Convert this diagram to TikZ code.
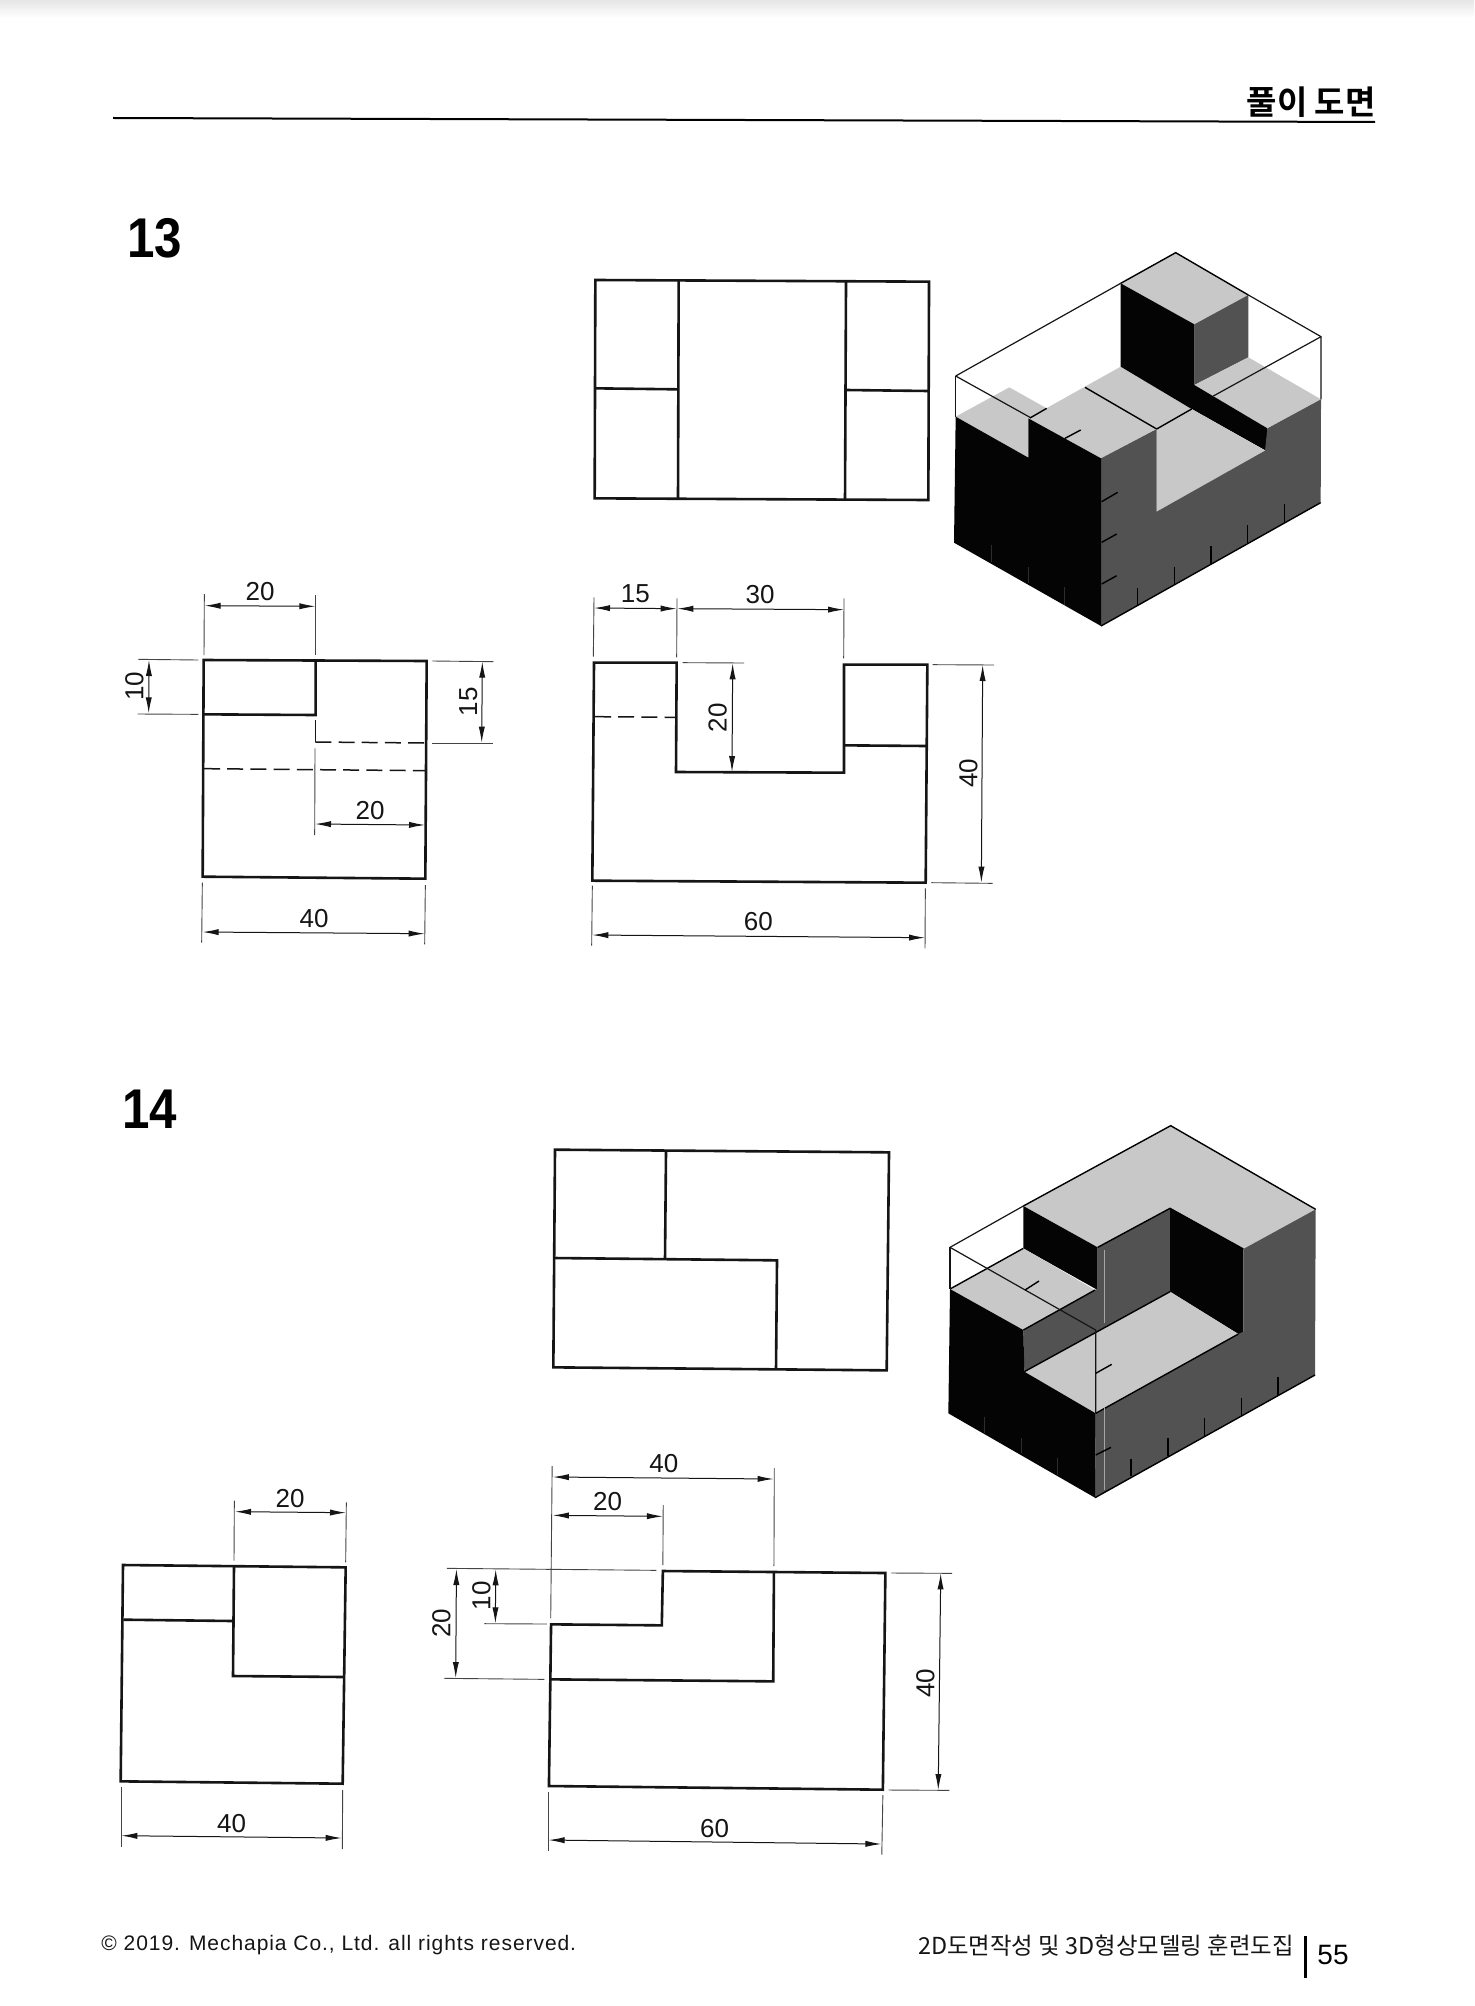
\documentclass[tikz,border=0pt]{standalone}
\usepackage{fontspec}
\setmainfont{Liberation Sans}
\newfontfamily\krfont{Noto Sans CJK KR}
\newfontfamily\krbold{Noto Sans CJK KR Bold}
\usetikzlibrary{arrows.meta}
\definecolor{isolight}{HTML}{C8C8C8}
\definecolor{isodark}{HTML}{525252}
\definecolor{isoblack}{HTML}{040404}
\definecolor{inkc}{HTML}{151515}
\tikzset{
  vis/.style={draw=inkc,line width=1.3pt,line join=miter},
  ext/.style={draw=inkc!80,line width=.45pt},
  dimarrow/.style={draw=inkc,line width=.5pt,{Latex[length=8pt,width=3.1pt]}-{Latex[length=8pt,width=3.1pt]}},
  hid/.style={draw=inkc,line width=.75pt,dash pattern=on 8pt off 3.6pt},
  wire/.style={draw=inkc,line width=.6pt},
  edge13/.style={draw=black,line width=.7pt},
  tick/.style={draw=black,line width=.7pt},
  faint/.style={draw=isodark!55!black,line width=.35pt},
  dimtext/.style={inner sep=0pt,font=\fontsize{13}{15}\selectfont,text=inkc},
  numhead/.style={inner sep=0pt,xscale=.88,font=\fontsize{28}{30}\selectfont\bfseries},
  cropA/.style={x=.166667pt,y=-.166667pt},
  cropB/.style={x=.178571pt,y=-.166667pt}
}
\begin{document}
\begin{tikzpicture}[x=.5pt,y=-.5pt]
\useasboundingbox (0,0) rectangle (1474,2006);
\fill[white] (0,0) rectangle (1474,2006);
\shade[top color=black!10,bottom color=white] (0,0) rectangle (1474,18);
% header
\draw[draw=black,line width=1pt] (113,118) -- (1375,122);
\node[inner sep=0pt,anchor=east,font=\fontsize{16.5}{18}\selectfont\krbold] (hdr) at (1376,102) {풀이 도면};
\node[numhead] (n13) at (155,238) {13};
\node[numhead] (n14) at (150,1109) {14};
% footer
\node[inner sep=0pt,anchor=west,text=inkc,font=\fontsize{10.5}{12}\selectfont\addfontfeature{LetterSpace=4.5}] (copy) at (101,1945) {© 2019. Mechapia Co., Ltd. all rights reserved.};
\node[inner sep=0pt,anchor=east,text=inkc,font=\fontsize{11.7}{13}\selectfont\krfont] (book) at (1294,1946) {2D도면작성 및 3D형상모델링 훈련도집};
\draw[draw=black,line width=1.5pt] (1305,1936) -- (1305,1978);
\node[inner sep=0pt,text=black,font=\fontsize{14}{16}\selectfont] (page) at (1333,1955) {55};

% ---- 13 top view
\begin{scope}[shift={(570,260)},cropA]
\draw[vis] (76,60) -- (1077,65) -- (1075,720) -- (74,715) -- cycle;
\draw[vis] (326,62) -- (324,716);
\draw[vis] (828,65) -- (825,718);
\draw[vis] (76,385) -- (325,388);
\draw[vis] (828,390) -- (1075,393);
\end{scope}

% ---- 13 left view
\begin{scope}[shift={(90,570)},cropA]
\draw[vis] (341,270) -- (1010,273) -- (1006,926) -- (338,920) -- cycle;
\draw[vis] (341,433) -- (677,435) -- (677,270);
\draw[draw=inkc,line width=.75pt] (676,450) -- (676,516);
\draw[hid] (676,516) -- (1005,519);
\draw[hid] (342,596) -- (1005,602);
\draw[ext] (675,535) -- (674,795);
\draw[ext] (343,72) -- (342,255);
\draw[ext] (676,75) -- (676,255);
\draw[dimarrow] (344,107) -- (676,109);
\node[dimtext] (a1) at (510,65) {20};
\draw[ext] (145,268) -- (325,270);
\draw[ext] (143,432) -- (325,433);
\draw[dimarrow] (177,270) -- (176,430);
\node[dimtext,rotate=90] (a2) at (133,348) {10};
\draw[ext] (1027,273) -- (1210,275);
\draw[ext] (1027,519) -- (1208,519);
\draw[dimarrow] (1177,275) -- (1175,518);
\node[dimtext,rotate=90] (a3) at (1135,395) {15};
\draw[dimarrow] (675,762) -- (1005,765);
\node[dimtext] (a4) at (840,722) {20};
\draw[ext] (337,938) -- (335,1118);
\draw[ext] (1006,945) -- (1004,1123);
\draw[dimarrow] (338,1086) -- (1004,1091);
\node[dimtext] (a5) at (672,1047) {40};
\end{scope}

% ---- 13 front view
\begin{scope}[shift={(570,570)},cropA]
\draw[vis] (72,278) -- (320,278) -- (318,606) -- (822,608) -- (822,284) -- (1072,284) -- (1067,938) -- (67,932) -- cycle;
\draw[vis] (822,526) -- (1070,528);
\draw[hid] (75,440) -- (318,442);
\draw[ext] (72,82) -- (70,260);
\draw[ext] (321,85) -- (320,262);
\draw[ext] (822,85) -- (821,265);
\draw[dimarrow] (72,114) -- (320,116);
\draw[dimarrow] (322,116) -- (822,119);
\node[dimtext] (b1) at (196,72) {15};
\node[dimtext] (b2) at (570,75) {30};
\draw[ext] (338,278) -- (522,279);
\draw[dimarrow] (488,280) -- (486,606);
\node[dimtext,rotate=90] (b3) at (443,443) {20};
\draw[ext] (1088,284) -- (1272,285);
\draw[ext] (1084,938) -- (1268,940);
\draw[dimarrow] (1238,285) -- (1234,938);
\node[dimtext,rotate=90] (b4) at (1195,610) {40};
\draw[ext] (67,947) -- (65,1127);
\draw[ext] (1066,955) -- (1065,1135);
\draw[dimarrow] (67,1095) -- (1065,1103);
\node[dimtext] (b5) at (565,1056) {60};
\end{scope}

% ---- 13 isometric
\begin{scope}[shift={(930,230)},cropA]
\fill[isolight] (572,160) -- (737,68) -- (955,195) -- (793,283) -- cycle;
\fill[isodark] (793,283) -- (955,195) -- (955,382) -- (793,465) -- cycle;
\fill[isolight] (793,465) -- (955,382) -- (1173,508) -- (1010,595) -- cycle;
\fill[isolight] (295,565) -- (572,410) -- (790,537) -- (513,685) -- cycle;
\fill[isolight] (77,560) -- (238,472) -- (350,535) -- (295,565) -- (295,683) -- cycle;
\fill[isoblack] (572,160) -- (793,283) -- (793,465) -- (1012,595) -- (1008,662) -- (785,537) -- (572,410) -- cycle;
\fill[isolight] (680,597) -- (785,537) -- (1005,662) -- (680,845) -- cycle;
\fill[isodark] (513,685) -- (680,597) -- (680,845) -- (1005,662) -- (1012,595) -- (1173,508) -- (1172,818) -- (513,1188) -- cycle;
\fill[isoblack] (77,560) -- (295,683) -- (295,565) -- (513,685) -- (513,1188) -- (72,938) -- cycle;
\draw[edge13] (572,160) -- (737,68) -- (955,195);
\draw[edge13] (513,1188) -- (1172,818);
\draw[wire] (77,438) -- (572,160);
\draw[wire] (955,195) -- (1173,320) -- (1173,508);
\draw[wire] (1173,320) -- (850,498);
\draw[wire] (77,438) -- (77,560);
\draw[wire] (77,438) -- (300,562);
\draw[edge13] (300,564) -- (350,535);
\draw[edge13] (465,472) -- (680,597);
\draw[edge13] (680,597) -- (785,537);
\draw[tick] (405,625) -- (452,600);
\draw[tick] (515,815) -- (563,787);
\draw[tick] (515,937) -- (560,912);
\draw[tick] (515,1062) -- (560,1037);
\draw[tick] (623,1125) -- (623,1075);
\draw[tick] (733,1065) -- (733,1010);
\draw[tick] (843,1003) -- (843,948);
\draw[tick] (953,940) -- (953,885);
\draw[tick] (1063,877) -- (1063,822);
\draw[faint] (185,995) -- (185,945);
\draw[faint] (295,1060) -- (295,1010);
\draw[faint] (403,1125) -- (403,1070);
\end{scope}

% ---- 14 top view
\begin{scope}[shift={(540,1130)},cropA]
\draw[vis] (45,59) -- (1047,67) -- (1040,721) -- (40,712) -- cycle;
\draw[vis] (378,62) -- (375,388);
\draw[vis] (43,384) -- (711,391) -- (708,717);
\end{scope}

% ---- 14 left view
\begin{scope}[shift={(100,1470)},cropA]
\draw[vis] (69,285) -- (737,292) -- (728,941) -- (62,934) -- cycle;
\draw[vis] (70,449) -- (400,453);
\draw[vis] (402,288) -- (399,618) -- (734,621);
\draw[ext] (403,92) -- (402,272);
\draw[ext] (739,97) -- (737,277);
\draw[dimarrow] (405,125) -- (738,128);
\node[dimtext] (c1) at (570,85) {20};
\draw[ext] (63,950) -- (63,1130);
\draw[ext] (728,960) -- (727,1137);
\draw[dimarrow] (64,1097) -- (725,1104);
\node[dimtext] (c2) at (395,1060) {40};
\end{scope}

% ---- 14 front view
\begin{scope}[shift={(420,1440)},cropB]
\draw[vis] (680,393) -- (1303,399) -- (1296,1049) -- (361,1038) -- (367,553) -- (677,556) -- cycle;
\draw[vis] (364,718) -- (989,724) -- (991,395);
\draw[ext] (370,78) -- (366,535);
\draw[ext] (992,85) -- (991,378);
\draw[dimarrow] (372,111) -- (990,117);
\node[dimtext] (d1) at (683,72) {40};
\draw[ext] (681,195) -- (680,375);
\draw[dimarrow] (372,226) -- (680,229);
\node[dimtext] (d2) at (525,185) {20};
\draw[ext] (75,385) -- (662,391);
\draw[ext] (180,551) -- (355,552);
\draw[ext] (68,715) -- (348,718);
\draw[dimarrow] (212,388) -- (211,550);
\node[dimtext,rotate=90] (d3) at (172,467) {10};
\draw[dimarrow] (102,387) -- (100,714);
\node[dimtext,rotate=90] (d4) at (60,550) {20};
\draw[ext] (1320,399) -- (1490,400);
\draw[ext] (1312,1050) -- (1482,1051);
\draw[dimarrow] (1458,400) -- (1451,1050);
\node[dimtext,rotate=90] (d5) at (1415,730) {40};
\draw[ext] (359,1055) -- (359,1233);
\draw[ext] (1296,1065) -- (1293,1244);
\draw[dimarrow] (360,1200) -- (1292,1212);
\node[dimtext] (d6) at (825,1165) {60};
\end{scope}

% ---- 14 isometric
\begin{scope}[shift={(930,1110)},cropA]
\fill[isolight] (280,288) -- (722,47) -- (1157,298) -- (940,417) -- (720,295) -- (503,412) -- cycle;
\fill[isoblack] (280,288) -- (503,412) -- (503,540) -- (280,415) -- cycle;
\fill[isodark] (503,412) -- (720,295) -- (720,545) -- (283,785) -- (280,660) -- (495,540) -- (503,535) -- cycle;
\fill[isolight] (60,537) -- (280,415) -- (495,540) -- (280,660) -- cycle;
\fill[isoblack] (720,295) -- (940,417) -- (940,672) -- (925,672) -- (720,545) -- cycle;
\fill[isolight] (283,785) -- (720,545) -- (925,672) -- (497,910) -- cycle;
\fill[isodark] (497,910) -- (925,672) -- (940,665) -- (940,417) -- (1157,298) -- (1155,795) -- (495,1163) -- cycle;
\fill[isoblack] (60,537) -- (280,660) -- (283,785) -- (497,910) -- (495,1163) -- (55,910) -- cycle;
\draw[edge13] (280,288) -- (722,47) -- (1157,298);
\draw[edge13] (940,417) -- (720,295) -- (503,412);
\draw[edge13] (283,785) -- (720,545);
\draw[edge13] (497,910) -- (925,672);
\draw[edge13] (495,1163) -- (1155,795);
\draw[edge13] (60,537) -- (280,415);
\draw[edge13] (280,660) -- (495,540);
\draw[wire] (60,412) -- (280,288);
\draw[wire] (60,412) -- (60,537);
\draw[wire] (60,412) -- (497,660) -- (497,910);
\draw[draw=isolight!70!isodark,line width=.35pt] (523,420) -- (523,640);
\draw[draw=isolight!70!isodark,line width=.35pt] (523,890) -- (523,1140);
\draw[tick] (285,540) -- (327,513);
\draw[tick] (497,790) -- (545,763);
\draw[tick] (497,1035) -- (543,1012);
\draw[tick] (603,1098) -- (603,1048);
\draw[tick] (714,1038) -- (714,985);
\draw[tick] (824,978) -- (824,925);
\draw[tick] (934,915) -- (934,863);
\draw[tick] (1044,855) -- (1044,802);
\draw[faint] (163,968) -- (163,920);
\draw[faint] (273,1030) -- (273,985);
\draw[faint] (383,1095) -- (383,1045);
\end{scope}
\end{tikzpicture}
\end{document}
